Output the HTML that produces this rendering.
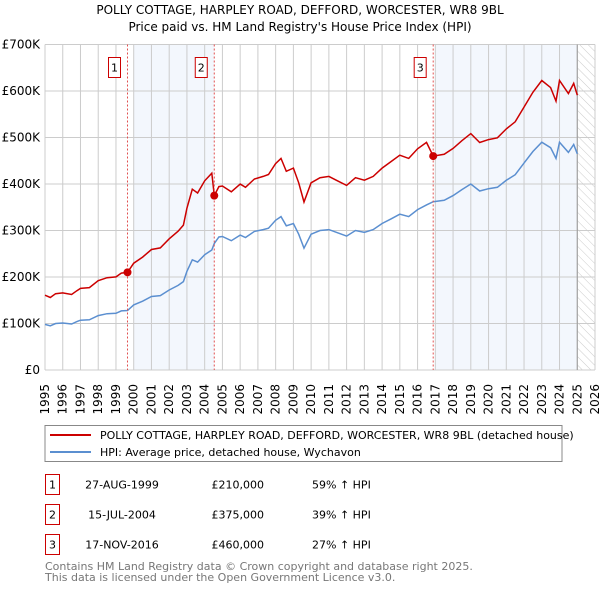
<!DOCTYPE html>
<html><head><meta charset="utf-8"><style>
body{margin:0;background:#fff;width:600px;height:590px;overflow:hidden;font-family:"DejaVu Sans","Liberation Sans",sans-serif;}
svg{position:absolute;left:0;top:0}
</style></head><body>
<svg id="c" width="600" height="590" xmlns="http://www.w3.org/2000/svg" font-family="DejaVu Sans, Liberation Sans, sans-serif">
<defs><pattern id="hatch" width="6" height="6" patternUnits="userSpaceOnUse" patternTransform="rotate(-45)"><line x1="0" y1="0" x2="0" y2="6" stroke="#ccc" stroke-width="1"/></pattern></defs>
<text x="300" y="14" text-anchor="middle" font-size="12">POLLY COTTAGE, HARPLEY ROAD, DEFFORD, WORCESTER, WR8 9BL</text>
<text x="300" y="31" text-anchor="middle" font-size="12">Price paid vs. HM Land Registry's House Price Index (HPI)</text>
<g id="plot"></g>
<g>
<rect x="45" y="425.5" width="517" height="36" fill="#fff" stroke="#888"/>
<line x1="50" y1="435" x2="91" y2="435" stroke="#cc0000" stroke-width="2"/>
<text x="100" y="439" font-size="11">POLLY COTTAGE, HARPLEY ROAD, DEFFORD, WORCESTER, WR8 9BL (detached house)</text>
<line x1="50" y1="452" x2="91" y2="452" stroke="#5b8fd0" stroke-width="2"/>
<text x="100" y="456" font-size="11">HPI: Average price, detached house, Wychavon</text>
</g>
<g id="table" font-size="11"></g>
<text x="45" y="570" font-size="11" fill="#777">Contains HM Land Registry data © Crown copyright and database right 2025.</text>
<text x="45" y="581" font-size="11" fill="#777">This data is licensed under the Open Government Licence v3.0.</text>
</svg>
<script>
const hpiDates=[1995,1995.3,1995.6,1996,1996.5,1996.8,1997,1997.5,1998,1998.5,1999,1999.3,1999.65,2000,2000.5,2001,2001.5,2002,2002.5,2002.8,2003,2003.3,2003.6,2004,2004.4,2004.54,2004.8,2005,2005.5,2006,2006.3,2006.8,2007.3,2007.6,2008,2008.3,2008.6,2009,2009.3,2009.6,2010,2010.5,2011,2011.5,2012,2012.5,2013,2013.5,2014,2014.5,2015,2015.5,2016,2016.5,2016.88,2017.5,2018,2018.5,2019,2019.5,2020,2020.5,2021,2021.5,2022,2022.5,2023,2023.5,2023.8,2024,2024.5,2024.8,2025];
const hpiValues=[98,95,100,101,99,104,107,108,117,121,122,127,128,140,148,158,160,172,182,190,212,237,232,248,258,272,286,287,278,290,285,298,302,305,322,330,310,315,292,262,292,300,302,295,288,300,296,302,315,325,335,330,345,355,362,365,375,388,400,385,390,393,408,420,445,470,490,478,455,490,468,485,465];
const saleDates=[1999.65,2004.54,2016.88];
const salePrices=[210000,375000,460000];
const saleLabels=["1","2","3"];
const saleDateText=["27-AUG-1999","15-JUL-2004","17-NOV-2016"];
const salePriceText=["£210,000","£375,000","£460,000"];
const salePctText=["59% ↑ HPI","39% ↑ HPI","27% ↑ HPI"];
const yTicks=[0,100000,200000,300000,400000,500000,600000,700000];
const yTickLabels=["£0","£100K","£200K","£300K","£400K","£500K","£600K","£700K"];
const xYears=[1995,1996,1997,1998,1999,2000,2001,2002,2003,2004,2005,2006,2007,2008,2009,2010,2011,2012,2013,2014,2015,2016,2017,2018,2019,2020,2021,2022,2023,2024,2025,2026];

const L=45,R=595,T=44.5,B=370,X0=1995,X1=2026,YMAX=700000;
const xs=y=>L+(y-X0)/(X1-X0)*(R-L);
const ys=v=>B-v/YMAX*(B-T);
const NS="http://www.w3.org/2000/svg";
const plot=document.getElementById('plot');
function mk(tag,at,parent){const e=document.createElementNS(NS,tag);for(const k in at)e.setAttribute(k,at[k]);(parent||plot).appendChild(e);return e;}
function hpiAt(t){for(let i=0;i<hpiDates.length-1;i++){if(t<=hpiDates[i+1]){const f=(t-hpiDates[i])/(hpiDates[i+1]-hpiDates[i]);return hpiValues[i]+f*(hpiValues[i+1]-hpiValues[i]);}}return hpiValues[hpiValues.length-1];}

let e;
e=mk('rect',{x:xs(2000),y:T,width:xs(saleDates[1])-xs(2000),height:B-T,fill:'#eef3fc',opacity:0.7});


e=mk('rect',{x:xs(2017),y:T,width:xs(2025)-xs(2017),height:B-T,fill:'#eef3fc',opacity:0.7});


e=mk('rect',{x:xs(2025),y:T,width:R-xs(2025),height:B-T,fill:'url(#hatch)'});


xYears.forEach(y=>{e=mk('line',{x1:xs(y),x2:xs(y),y1:T,y2:B,stroke:'#ccc','stroke-width':1});


e=mk('text',{transform:`translate(${xs(y)+4},384) rotate(-90)`,'text-anchor':'end','font-size':12});e.textContent=y;

});
yTicks.forEach((v,i)=>{e=mk('line',{x1:L,x2:R,y1:ys(v),y2:ys(v),stroke:'#ccc','stroke-width':1});


e=mk('text',{x:L-5,y:ys(v)+4,'text-anchor':'end','font-size':12});e.textContent=yTickLabels[i];

});
e=mk('line',{x1:xs(2025),x2:xs(2025),y1:T,y2:B,stroke:'#999','stroke-width':1});



let p='';hpiDates.forEach((d,i)=>{p+=(i?'L':'M')+xs(d).toFixed(1)+','+ys(hpiValues[i]*1000).toFixed(1);});
e=mk('path',{d:p,fill:'none',stroke:'#5b8fd0','stroke-width':1.5});


function propAt(t){let k=0;for(let i=0;i<saleDates.length;i++)if(t>=saleDates[i])k=i;return salePrices[k]*hpiAt(t)/hpiAt(saleDates[k]);}
p='';hpiDates.forEach((d,i)=>{p+=(i?'L':'M')+xs(d).toFixed(1)+','+ys(propAt(d)).toFixed(1);});
e=mk('path',{d:p,fill:'none',stroke:'#cc0000','stroke-width':1.5});



saleDates.forEach((d,i)=>{
e=mk('line',{x1:xs(d),x2:xs(d),y1:T,y2:B,stroke:'#e05050','stroke-width':1,'stroke-dasharray':'2,2'});


e=mk('circle',{cx:xs(d),cy:ys(salePrices[i]),r:4,fill:'#cc0000'});


e=mk('rect',{x:xs(d)-19,y:57.5,width:12,height:20,fill:'#fff',stroke:'#cc0000'});


e=mk('text',{x:xs(d)-13,y:71.5,'text-anchor':'middle','font-size':11});e.textContent=saleLabels[i];


});

const tb=document.getElementById('table');
saleDates.forEach((d,i)=>{const cy=484.5+i*30;
e=mk('rect',{x:45.5,y:cy-10,width:14,height:20,fill:'#fff',stroke:'#cc0000'},tb);


e=mk('text',{x:52.5,y:cy+4,'text-anchor':'middle'},tb);e.textContent=saleLabels[i];


e=mk('text',{x:122,y:cy+4,'text-anchor':'middle'},tb);e.textContent=saleDateText[i];


e=mk('text',{x:264,y:cy+4,'text-anchor':'end'},tb);e.textContent=salePriceText[i];


e=mk('text',{x:312,y:cy+4},tb);e.textContent=salePctText[i];


});
</script>
</body></html>
